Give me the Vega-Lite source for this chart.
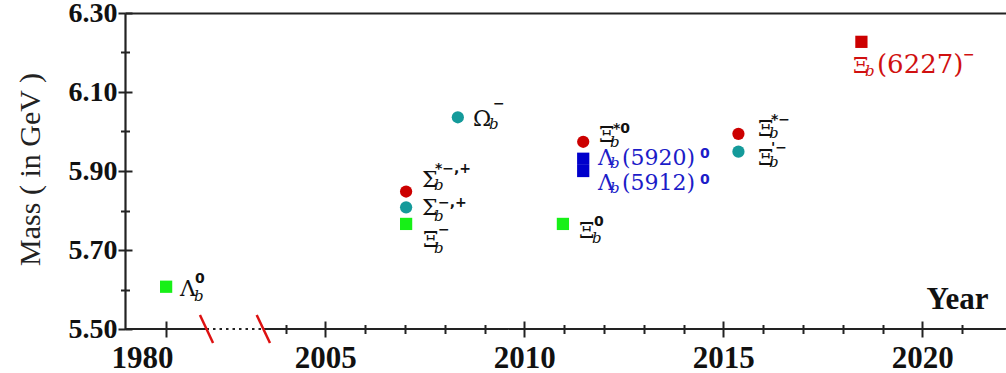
{
  "$schema": "https://vega.github.io/schema/vega-lite/v6.json",
  "width": 881,
  "height": 316,
  "autosize": {"type": "none"},
  "padding": {"left": 125, "top": 13, "right": 0, "bottom": 44},
  "background": "white",
  "config": {"view": {"stroke": null}, "axis": {"grid": false}},
  "datasets": {
    "segs": [
      {"x0": 1999.967, "x1": 2002.015, "style": "solid"},
      {"x0": 2002.015, "x1": 2003.44, "style": "dotted"},
      {"x0": 2003.44, "x1": 2022.103, "style": "solid"}
    ],
    "breaks": [
      {"x0": 2001.85, "x1": 2002.18, "m0": 5.5354, "m1": 5.4646},
      {"x0": 2003.276, "x1": 2003.61, "m0": 5.5354, "m1": 5.4646}
    ],
    "pts": [
      {"name": "Λb0", "kind": "ground", "year": 2001.0, "mass": 5.607},
      {"name": "Σb*", "kind": "star", "year": 2007.03, "mass": 5.848},
      {"name": "Σb", "kind": "prime", "year": 2007.03, "mass": 5.808},
      {"name": "Ξb-", "kind": "ground", "year": 2007.03, "mass": 5.766},
      {"name": "Ωb-", "kind": "prime", "year": 2008.33, "mass": 6.036},
      {"name": "Ξb0", "kind": "ground", "year": 2010.97, "mass": 5.766},
      {"name": "Ξb*0", "kind": "star", "year": 2011.48, "mass": 5.974},
      {"name": "Λb(5920)0", "kind": "lamx", "year": 2011.48, "mass": 5.931},
      {"name": "Λb(5912)0", "kind": "lamx", "year": 2011.48, "mass": 5.900},
      {"name": "Ξb*-", "kind": "star", "year": 2015.38, "mass": 5.994},
      {"name": "Ξb'-", "kind": "prime", "year": 2015.38, "mass": 5.949},
      {"name": "Ξb(6227)-", "kind": "xi6227", "year": 2018.47, "mass": 6.227}
    ],
    "frags": [
      {"t": "Λ", "role": "base", "grp": "std", "year": 2001.349, "mass": 5.5835},
      {"t": "b", "role": "sub", "grp": "std", "year": 2001.701, "mass": 5.5709},
      {"t": "0", "role": "sup", "grp": "std", "year": 2001.726, "mass": 5.6165},
      {"t": "Σ", "role": "base", "grp": "std", "year": 2007.429, "mass": 5.8595},
      {"t": "b", "role": "sub", "grp": "std", "year": 2007.731, "mass": 5.8519},
      {"t": "*−,+", "role": "sup", "grp": "std", "year": 2007.756, "mass": 5.8949},
      {"t": "Σ", "role": "base", "grp": "std", "year": 2007.429, "mass": 5.7886},
      {"t": "b", "role": "sub", "grp": "std", "year": 2007.731, "mass": 5.7734},
      {"t": "−,+", "role": "sup", "grp": "std", "year": 2007.831, "mass": 5.8089},
      {"t": "Ξ", "role": "base", "grp": "std", "year": 2007.454, "mass": 5.7076},
      {"t": "b", "role": "sub", "grp": "std", "year": 2007.731, "mass": 5.6924},
      {"t": "−", "role": "sup", "grp": "std", "year": 2007.831, "mass": 5.7405},
      {"t": "Ω", "role": "base", "grp": "std", "year": 2008.711, "mass": 6.0139},
      {"t": "b", "role": "sub", "grp": "std", "year": 2009.113, "mass": 6.0063},
      {"t": "−", "role": "sup", "grp": "std", "year": 2009.213, "mass": 6.0595},
      {"t": "Ξ", "role": "base", "grp": "std", "year": 2011.374, "mass": 5.7304},
      {"t": "b", "role": "sub", "grp": "std", "year": 2011.701, "mass": 5.7177},
      {"t": "0", "role": "sup", "grp": "std", "year": 2011.751, "mass": 5.7608},
      {"t": "Ξ", "role": "base", "grp": "std", "year": 2011.877, "mass": 5.9734},
      {"t": "b", "role": "sub", "grp": "std", "year": 2012.153, "mass": 5.9608},
      {"t": "*0", "role": "sup", "grp": "std", "year": 2012.228, "mass": 5.9962},
      {"t": "Λ", "role": "base", "grp": "lam", "year": 2011.851, "mass": 5.9152},
      {"t": "b", "role": "sub", "grp": "lam", "year": 2012.153, "mass": 5.9076},
      {"t": "(5920)", "role": "rest", "grp": "lam", "year": 2012.454, "mass": 5.9152},
      {"t": "0", "role": "sup", "grp": "lam", "year": 2014.414, "mass": 5.9329},
      {"t": "Λ", "role": "base", "grp": "lam", "year": 2011.851, "mass": 5.8519},
      {"t": "b", "role": "sub", "grp": "lam", "year": 2012.153, "mass": 5.8443},
      {"t": "(5912)", "role": "rest", "grp": "lam", "year": 2012.454, "mass": 5.8519},
      {"t": "0", "role": "sup", "grp": "lam", "year": 2014.414, "mass": 5.8671},
      {"t": "Ξ", "role": "base", "grp": "std", "year": 2015.872, "mass": 5.9886},
      {"t": "b", "role": "sub", "grp": "std", "year": 2016.148, "mass": 5.9835},
      {"t": "*−", "role": "sup", "grp": "std", "year": 2016.198, "mass": 6.019},
      {"t": "Ξ", "role": "base", "grp": "std", "year": 2015.872, "mass": 5.9152},
      {"t": "b", "role": "sub", "grp": "std", "year": 2016.148, "mass": 5.9101},
      {"t": "'−", "role": "sup", "grp": "std", "year": 2016.198, "mass": 5.9481},
      {"t": "Ξ", "role": "base", "grp": "xi", "year": 2018.258, "mass": 6.1481},
      {"t": "b", "role": "sub", "grp": "xi", "year": 2018.56, "mass": 6.1405},
      {"t": "(6227)", "role": "restL", "grp": "xi", "year": 2018.861, "mass": 6.1481},
      {"t": "−", "role": "sup", "grp": "xi", "year": 2021.02, "mass": 6.1835}
    ]
  },
  "resolve": {"axis": {"x": "independent", "y": "independent"}, "scale": {"color": "independent"}},
  "layer": [
    {
      "data": {"name": "segs"},
      "mark": {"type": "rule", "color": "#222", "strokeWidth": 2.2},
      "encoding": {
        "x": {"field": "x0", "type": "quantitative",
          "scale": {"domain": [1999.967, 2022.103], "nice": false, "zero": false},
          "axis": {"orient": "bottom", "values": [2001, 2005, 2010, 2015, 2020], "domain": false, "grid": false,
            "tickSize": 8, "tickWidth": 2, "tickColor": "#222",
            "labelExpr": "datum.value == 2001 ? '1980' : '' + datum.value",
            "labelFont": "Liberation Serif", "labelFontWeight": "bold", "labelFontSize": 31, "labelColor": "#111",
            "labelPadding": 6, "labelOffset": {"condition": {"test": "datum.value == 2001", "value": -24}, "value": 0},
            "labelFlush": false, "labelOverlap": false, "labelBound": false,
            "title": "Year", "titleFont": "Liberation Serif", "titleFontWeight": "bold", "titleFontSize": 31, "titleColor": "#111",
            "titleX": 863, "titleY": -21, "titleAlign": "right", "titleBaseline": "alphabetic", "titleAngle": 0}},
        "x2": {"field": "x1"},
        "y": {"datum": 5.5, "type": "quantitative",
          "scale": {"domain": [5.5, 6.3], "nice": false, "zero": false},
          "axis": {"orient": "left", "values": [5.5, 5.7, 5.9, 6.1, 6.3], "format": ".2f", "domain": true,
            "domainColor": "#222", "domainWidth": 2.2, "grid": false,
            "tickSize": 7, "tickWidth": 2, "tickColor": "#222",
            "labelFont": "Liberation Serif", "labelFontWeight": "bold", "labelFontSize": 28, "labelColor": "#111",
            "labelPadding": 1, "labelFlush": false, "labelOverlap": false, "labelBound": false,
            "title": "Mass ( in GeV )", "titleFont": "Liberation Serif", "titleFontWeight": "normal", "titleFontSize": 30,
            "titleColor": "#222", "titleAngle": -90, "titleX": -95, "titleY": 156, "titleAlign": "center", "titleBaseline": "middle"}},
        "strokeDash": {"field": "style", "type": "nominal",
          "scale": {"domain": ["solid", "dotted"], "range": [[1, 0], [2.5, 4]]}, "legend": null}
      }
    },
    {
      "data": {"name": "breaks"},
      "mark": {"type": "rule", "color": "#dd1111", "strokeWidth": 2.5},
      "encoding": {
        "x": {"field": "x0", "type": "quantitative",
          "axis": {"orient": "bottom", "values": [2004, 2006, 2007, 2008, 2009, 2011, 2012, 2013, 2014, 2016, 2017, 2018, 2019, 2021],
            "domain": false, "grid": false, "labels": false, "tickSize": 4.5, "tickWidth": 2, "tickColor": "#222", "title": null}},
        "x2": {"field": "x1"},
        "y": {"field": "m0", "type": "quantitative",
          "axis": {"orient": "left", "values": [5.6, 5.8, 6.0, 6.2], "domain": false, "grid": false, "labels": false,
            "tickSize": 4.5, "tickWidth": 2, "tickColor": "#222", "title": null}},
        "y2": {"field": "m1"}
      }
    },
    {
      "data": {"name": "pts"},
      "mark": {"type": "point", "filled": true, "opacity": 1, "strokeWidth": 0},
      "encoding": {
        "x": {"field": "year", "type": "quantitative",
          "axis": {"orient": "bottom", "values": [2001, 2005, 2010, 2015, 2020], "domain": false, "grid": false, "labels": false,
            "tickSize": -8, "tickWidth": 2, "tickColor": "#222", "title": null}},
        "y": {"field": "mass", "type": "quantitative",
          "axis": {"orient": "left", "values": [5.5, 5.7, 5.9, 6.1, 6.3], "domain": false, "grid": false, "labels": false,
            "tickSize": -7, "tickWidth": 2, "tickColor": "#222", "title": null}},
        "color": {"field": "kind", "type": "nominal", "legend": null,
          "scale": {"domain": ["star", "prime", "ground", "lamx", "xi6227"], "range": ["#cc0000", "#149a9a", "#17f017", "#0000cc", "#cc0000"]}},
        "shape": {"field": "kind", "type": "nominal", "legend": null,
          "scale": {"domain": ["star", "prime", "ground", "lamx", "xi6227"], "range": ["circle", "circle", "square", "square", "square"]}},
        "size": {"field": "kind", "type": "nominal", "legend": null,
          "scale": {"domain": ["star", "prime", "ground", "lamx", "xi6227"], "range": [150, 150, 144, 64, 169]}}
      }
    },
    {
      "data": {"name": "frags"},
      "transform": [{"filter": "datum.role == 'base'"}],
      "mark": {"type": "text", "align": "left", "baseline": "alphabetic", "font": "DejaVu Serif", "fontSize": 22},
      "encoding": {
        "x": {"field": "year", "type": "quantitative",
          "axis": {"orient": "bottom", "values": [2004, 2006, 2007, 2008, 2009, 2011, 2012, 2013, 2014, 2016, 2017, 2018, 2019, 2021],
            "domain": false, "grid": false, "labels": false, "tickSize": -4.5, "tickWidth": 2, "tickColor": "#222", "title": null}},
        "y": {"field": "mass", "type": "quantitative",
          "axis": {"orient": "left", "values": [5.6, 5.8, 6.0, 6.2], "domain": false, "grid": false, "labels": false,
            "tickSize": -4.5, "tickWidth": 2, "tickColor": "#222", "title": null}},
        "text": {"field": "t"},
        "color": {"field": "grp", "type": "nominal", "legend": null,
          "scale": {"domain": ["std", "lam", "xi"], "range": ["#111111", "#1c1cc8", "#d01010"]}}
      }
    },
    {
      "data": {"name": "frags"},
      "transform": [{"filter": "datum.role == 'sub'"}],
      "mark": {"type": "text", "align": "left", "baseline": "alphabetic", "font": "DejaVu Serif", "fontStyle": "italic", "fontSize": 15},
      "encoding": {
        "x": {"field": "year", "type": "quantitative",
          "axis": {"orient": "top", "domain": true, "domainColor": "#222", "domainWidth": 2, "ticks": false, "labels": false, "grid": false, "title": null}},
        "y": {"field": "mass", "type": "quantitative", "axis": null},
        "text": {"field": "t"},
        "color": {"field": "grp", "type": "nominal", "legend": null,
          "scale": {"domain": ["std", "lam", "xi"], "range": ["#111111", "#1c1cc8", "#d01010"]}}
      }
    },
    {
      "data": {"name": "frags"},
      "transform": [{"filter": "datum.role == 'sup'"}],
      "mark": {"type": "text", "align": "left", "baseline": "alphabetic", "font": "DejaVu Sans", "fontWeight": "bold", "fontSize": 14},
      "encoding": {
        "x": {"field": "year", "type": "quantitative", "axis": null},
        "y": {"field": "mass", "type": "quantitative", "axis": null},
        "text": {"field": "t"},
        "color": {"field": "grp", "type": "nominal", "legend": null,
          "scale": {"domain": ["std", "lam", "xi"], "range": ["#111111", "#1c1cc8", "#d01010"]}}
      }
    },
    {
      "data": {"name": "frags"},
      "transform": [{"filter": "datum.role == 'rest'"}],
      "mark": {"type": "text", "align": "left", "baseline": "alphabetic", "font": "DejaVu Serif", "fontSize": 22},
      "encoding": {
        "x": {"field": "year", "type": "quantitative", "axis": null},
        "y": {"field": "mass", "type": "quantitative", "axis": null},
        "text": {"field": "t"},
        "color": {"field": "grp", "type": "nominal", "legend": null,
          "scale": {"domain": ["std", "lam", "xi"], "range": ["#111111", "#1c1cc8", "#d01010"]}}
      }
    },
    {
      "data": {"name": "frags"},
      "transform": [{"filter": "datum.role == 'restL'"}],
      "mark": {"type": "text", "align": "left", "baseline": "alphabetic", "font": "DejaVu Serif", "fontSize": 26},
      "encoding": {
        "x": {"field": "year", "type": "quantitative", "axis": null},
        "y": {"field": "mass", "type": "quantitative", "axis": null},
        "text": {"field": "t"},
        "color": {"field": "grp", "type": "nominal", "legend": null,
          "scale": {"domain": ["std", "lam", "xi"], "range": ["#111111", "#1c1cc8", "#d01010"]}}
      }
    }
  ]
}
